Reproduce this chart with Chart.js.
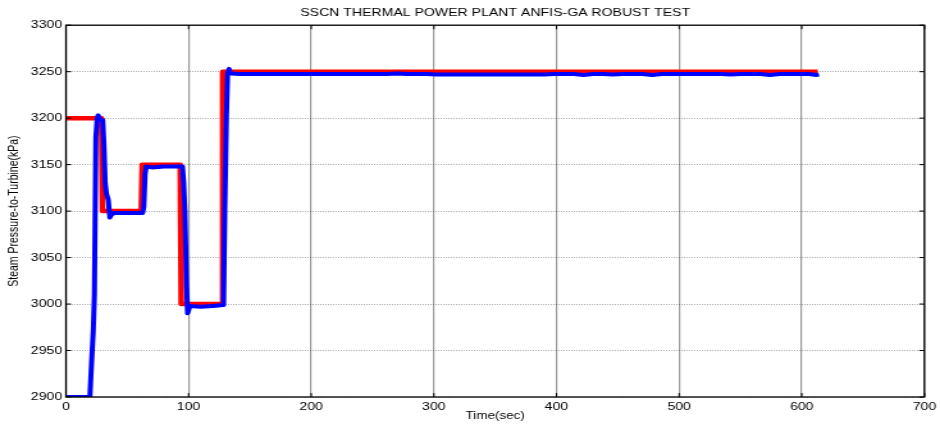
<!DOCTYPE html>
<html>
<head>
<meta charset="utf-8">
<script src="https://cdn.jsdelivr.net/npm/chart.js@4.4.0/dist/chart.umd.min.js"></script>
<style>
html,body{margin:0;padding:0;background:#fff;overflow:hidden}
canvas{display:block;width:940px;height:424px}
</style>
</head>
<body>
<canvas id="c" width="734" height="424" style="width:940px;height:424px"></canvas>
<script>
const chartTitle = 'SSCN THERMAL POWER PLANT ANFIS-GA ROBUST TEST';
const xAxisTitle = 'Time(sec)';
const yAxisTitle = 'Steam Pressure-to-Turbine(kPa)';

const xTicks = [0, 100, 200, 300, 400, 500, 600, 700];
const yTicks = [2900, 2950, 3000, 3050, 3100, 3150, 3200, 3250, 3300];

// Set-point (red)
const setpointTime = [0, 29, 29.8, 61.4, 62.2, 93.2, 94, 127, 127.8, 613];
const setpointPressure = [3200, 3200, 3100, 3100, 3150, 3150, 3000, 3000, 3250, 3250];

// ANFIS-GA response (blue)
const responseTime = [
  0, 19.5, 21, 22.3, 23.2, 24.4, 25.5, 26.3, 27.5, 30,
  31, 32, 33, 34.5, 35.8, 37, 39, 50, 62.5, 63.5,
  64.5, 65.5, 70, 80, 90, 95, 96, 97, 98.3, 99.2,
  100, 101, 110, 120, 128.5, 129.5, 130.8, 131.8, 133, 134,
  135, 142, 150, 158, 166, 174, 182, 190, 198, 206,
  214, 222, 230, 238, 246, 254, 262, 270, 278, 286,
  294, 302, 310, 318, 326, 334, 342, 350, 358, 366,
  374, 382, 390, 398, 406, 414, 422, 430, 438, 446,
  454, 462, 470, 478, 486, 494, 502, 510, 518, 526,
  534, 542, 550, 558, 566, 574, 582, 590, 598, 606,
  612, 614
];
const responsePressure = [
  2900, 2900, 2940, 2972, 3010, 3180, 3200, 3203, 3199, 3198,
  3170, 3130, 3119, 3112, 3093, 3096, 3098, 3098, 3098, 3105,
  3140, 3148, 3147, 3148, 3148, 3148, 3130, 3100, 3020, 2990,
  2993, 2998, 2997, 2998, 2999, 3100, 3200, 3248, 3253, 3249,
  3248, 3247.5, 3247.5, 3247.5, 3247.5, 3247.5, 3247.5, 3247.5, 3247.5, 3247.5,
  3247.5, 3247.5, 3247.5, 3247.5, 3247.5, 3247.5, 3247.5, 3248, 3247.5, 3247.5,
  3247.5, 3247, 3247, 3247, 3247, 3247, 3247, 3247, 3247, 3247,
  3247, 3247, 3247, 3247.5, 3247.5, 3247.5, 3246.5, 3247.5, 3247.5, 3247,
  3247.5, 3247.5, 3247.5, 3246.5, 3247.5, 3247.5, 3247.5, 3247.5, 3247.5, 3247.5,
  3247.5, 3247, 3247.5, 3247.5, 3247.5, 3246.5, 3247.5, 3247.5, 3247.5, 3247.5,
  3246.5, 3247
];

const FONT = "'Liberation Sans', Arial, sans-serif";

const framePlugin = {
  id: 'frame',
  afterDraw(chart) {
    const {ctx, chartArea: a, scales: {x, y}} = chart;
    ctx.save();
    ctx.strokeStyle = '#000';
    ctx.lineWidth = 1;
    ctx.beginPath();
    x.ticks.forEach(t => {
      const px = x.getPixelForValue(t.value);
      ctx.moveTo(px, a.bottom); ctx.lineTo(px, a.bottom - 4);
      ctx.moveTo(px, a.top); ctx.lineTo(px, a.top + 4);
    });
    y.ticks.forEach(t => {
      const py = y.getPixelForValue(t.value);
      ctx.moveTo(a.left, py); ctx.lineTo(a.left + 4, py);
      ctx.moveTo(a.right, py); ctx.lineTo(a.right - 4, py);
    });
    ctx.stroke();
    ctx.lineWidth = 1.3;
    ctx.strokeRect(a.left, a.top, a.right - a.left, a.bottom - a.top);
    ctx.restore();
  }
};

new Chart(document.getElementById('c'), {
  type: 'line',
  data: {
    datasets: [
      {
        label: 'Set-point',
        data: setpointTime.map((t, i) => ({x: t, y: setpointPressure[i]})),
        borderColor: '#ff0000',
        backgroundColor: '#ff0000',
        borderWidth: 4.5,
        pointRadius: 0,
        tension: 0,
        borderJoinStyle: 'round',
        order: 2
      },
      {
        label: 'ANFIS-GA',
        data: responseTime.map((t, i) => ({x: t, y: responsePressure[i]})),
        borderColor: '#0000ff',
        backgroundColor: '#0000ff',
        borderWidth: 4,
        pointRadius: 0,
        tension: 0,
        borderJoinStyle: 'round',
        order: 1
      }
    ]
  },
  options: {
    responsive: false,
    animation: false,
    devicePixelRatio: 1,
    layout: {padding: {left: 0, right: 11, top: 0, bottom: 0}},
    plugins: {
      legend: {display: false},
      tooltip: {enabled: false},
      title: {
        display: true,
        text: chartTitle,
        fullSize: false,
        color: '#000',
        font: {family: FONT, size: 11, weight: 'normal'},
        padding: {top: 6, bottom: 6}
      }
    },
    scales: {
      x: {
        type: 'linear',
        min: xTicks[0],
        max: xTicks[xTicks.length - 1],
        ticks: {stepSize: xTicks[1] - xTicks[0], color: '#000', font: {family: FONT, size: 11}, padding: 3, maxRotation: 0,
                callback: v => String(v)},
        grid: {color: '#9a9a9a', lineWidth: 1.2, drawTicks: false},
        border: {display: false},
        title: {display: true, text: xAxisTitle, color: '#000', font: {family: FONT, size: 10.5}, padding: {top: 0, bottom: 2}},
        afterFit(s) { s.height = 27; }
      },
      y: {
        type: 'linear',
        min: yTicks[0],
        max: yTicks[yTicks.length - 1],
        ticks: {stepSize: yTicks[1] - yTicks[0], color: '#000', font: {family: FONT, size: 11}, padding: 3,
                callback: v => String(v)},
        grid: {color: 'rgba(0,0,0,0.32)', lineWidth: 1, drawTicks: false},
        border: {display: false, dash: [1, 1]},
        title: {display: true, text: yAxisTitle, color: '#000', font: {family: FONT, size: 10.5}, padding: {top: 5, bottom: 0}},
        afterFit(s) { s.width = 51.5; }
      }
    }
  },
  plugins: [framePlugin]
});
</script>
</body>
</html>
